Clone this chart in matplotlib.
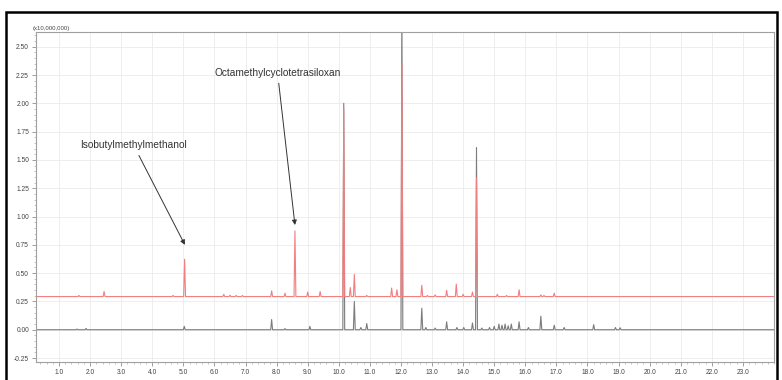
import numpy as np
import matplotlib.pyplot as plt
from matplotlib.patches import Rectangle
from matplotlib.ticker import MultipleLocator

plt.rcParams['font.family'] = ['Liberation Sans', 'DejaVu Sans']

# retention time (min) and peak height (x10,000,000)
gray_rt = [1.58, 1.87, 5.03, 7.84, 8.27, 9.07, 10.16, 10.50, 10.71, 10.90,
           12.03, 12.67, 12.80, 13.10, 13.47, 13.80, 14.02, 14.30, 14.43, 14.60,
           14.85, 15.00, 15.15, 15.25, 15.35, 15.45, 15.55, 15.80, 16.10, 16.50,
           16.93, 17.25, 18.20, 18.90, 19.05]
gray_h = [0.006, 0.012, 0.03, 0.09, 0.01, 0.03, 2.00, 0.25, 0.02, 0.055,
          2.90, 0.19, 0.02, 0.015, 0.07, 0.02, 0.02, 0.06, 1.61, 0.015,
          0.02, 0.03, 0.05, 0.04, 0.05, 0.035, 0.05, 0.07, 0.02, 0.12,
          0.04, 0.02, 0.045, 0.02, 0.018]
gray_base = 0.0

red_rt = [1.64, 2.45, 4.67, 5.04, 6.30, 6.50, 6.70, 6.90, 7.84, 8.27,
          8.59, 9.00, 9.40, 10.16, 10.37, 10.50, 10.90, 11.70, 11.87, 12.03,
          12.67, 12.85, 13.10, 13.47, 13.78, 14.00, 14.30, 14.43, 15.10, 15.40,
          15.80, 16.50, 16.60, 16.93]
red_h = [0.01, 0.045, 0.01, 0.33, 0.02, 0.012, 0.01, 0.01, 0.05, 0.03,
         0.58, 0.04, 0.045, 1.66, 0.08, 0.195, 0.01, 0.075, 0.06, 2.06,
         0.10, 0.01, 0.015, 0.055, 0.11, 0.02, 0.04, 1.05, 0.02, 0.01,
         0.06, 0.015, 0.01, 0.03]
red_base = 0.293

T_START, T_END = 0.3, 24.0
HW = 0.03  # spike half width


def spike_trace(rt, h, base):
    t = [T_START]
    y = [base]
    for r, v in sorted(zip(rt, h)):
        t += [r - HW, r, r + HW]
        y += [base, base + v, base]
    t.append(T_END)
    y.append(base)
    return t, y


fig = plt.figure(figsize=(7.82, 3.80), dpi=100)
ax = fig.add_axes([36 / 782, 18 / 380, 738 / 782, 330 / 380])

gt, gy = spike_trace(gray_rt, gray_h, gray_base)
rt_, ry = spike_trace(red_rt, red_h, red_base)
ax.plot(gt, gy, color='#7c7c7c', lw=0.8, zorder=2)
ax.plot(rt_, ry, color='#f27f7f', lw=0.8, zorder=3)

ax.set_xlim(0.26, 24.0)
ax.set_ylim(-0.285, 2.63)
ax.xaxis.set_minor_locator(MultipleLocator(0.2))
ax.yaxis.set_minor_locator(MultipleLocator(0.05))
ax.set_xticks(np.arange(1.0, 24.0, 1.0))
ax.set_xticklabels([f"{v:.1f}" for v in np.arange(1.0, 24.0, 1.0)])
ax.set_yticks(np.arange(-0.25, 2.6, 0.25))
ax.set_yticklabels([f"{v:.2f}" for v in np.arange(-0.25, 2.6, 0.25)])
ax.tick_params(which='major', length=3, width=0.5, color='#777777',
               labelsize=4.8, labelcolor='#444444', pad=2)
ax.tick_params(which='minor', length=1.5, width=0.4, color='#999999')
ax.grid(True, which='major', color='#ebebeb', lw=0.6, zorder=0)
ax.set_axisbelow(True)
for s in ax.spines.values():
    s.set_color('#a0a0a0')
    s.set_linewidth(0.8)

ax.text(-0.004, 1.003, '(x10,000,000)', transform=ax.transAxes,
        fontsize=4.3, ha='left', va='bottom', color='#444444')

arrow = dict(arrowstyle='-|>', color='#333333', lw=0.7, mutation_scale=7,
             shrinkA=2, shrinkB=0)
ax.annotate('Isobutylmethylmethanol', xy=(5.05, 0.75), xytext=(3.40, 1.63),
            ha='center', va='center', fontsize=7.3, color='#333333',
            arrowprops=arrow)
ax.annotate('Octamethylcyclotetrasiloxan', xy=(8.59, 0.925), xytext=(8.03, 2.27),
            ha='center', va='center', fontsize=7.3, color='#333333',
            arrowprops=arrow)

frame = Rectangle((6 / 782, -0.05), 771 / 782, 1.05 - 12 / 380,
                  transform=fig.transFigure, fill=False, ec='black', lw=1.8,
                  clip_on=False)
fig.patches.append(frame)

fig.savefig('out.png', dpi=100)
